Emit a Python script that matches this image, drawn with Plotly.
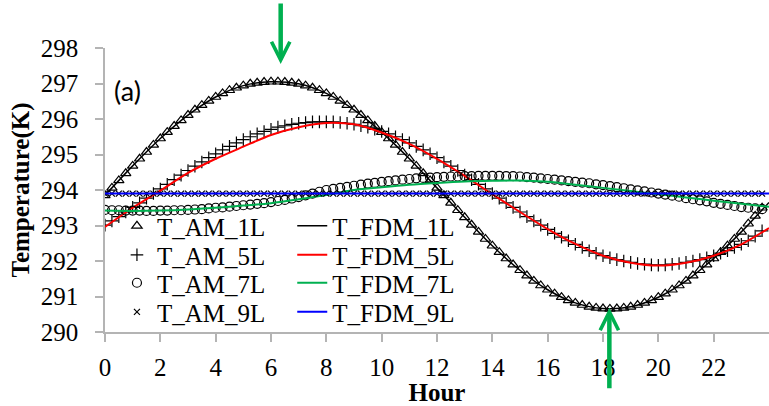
import plotly.graph_objects as go

# ---------------- data ----------------
hours_am = [i * 0.25 for i in range(96)]          # 0 .. 23.75 h (15-min steps)
hours_fdm = list(range(25))                        # 0 .. 24 h

t_am_1l = [293.85, 294.06, 294.27, 294.47, 294.68, 294.88, 295.07, 295.27, 295.45, 295.63,
           295.80, 295.96, 296.11, 296.26, 296.39, 296.51, 296.62, 296.72, 296.81, 296.88,
           296.94, 296.99, 297.02, 297.04, 297.05, 297.05, 297.04, 297.02, 296.99, 296.94,
           296.88, 296.81, 296.72, 296.62, 296.51, 296.39, 296.26, 296.11, 295.96, 295.80,
           295.63, 295.45, 295.27, 295.07, 294.88, 294.68, 294.47, 294.27, 294.06, 293.85,
           293.64, 293.43, 293.23, 293.02, 292.82, 292.62, 292.43, 292.25, 292.07, 291.90,
           291.74, 291.59, 291.44, 291.31, 291.19, 291.08, 290.98, 290.89, 290.82, 290.76,
           290.71, 290.68, 290.66, 290.65, 290.66, 290.68, 290.71, 290.76, 290.82, 290.89,
           290.98, 291.08, 291.19, 291.31, 291.44, 291.59, 291.74, 291.90, 292.07, 292.25,
           292.43, 292.62, 292.82, 293.05, 293.27, 293.50]

t_am_5l = [293.01, 293.13, 293.25, 293.38, 293.51, 293.64, 293.77, 293.90, 294.03, 294.16,
           294.29, 294.42, 294.55, 294.67, 294.79, 294.91, 295.02, 295.13, 295.23, 295.33,
           295.42, 295.50, 295.58, 295.65, 295.71, 295.77, 295.81, 295.85, 295.88, 295.90,
           295.92, 295.92, 295.92, 295.92, 295.90, 295.88, 295.85, 295.81, 295.77, 295.71,
           295.65, 295.58, 295.50, 295.42, 295.33, 295.23, 295.13, 295.02, 294.91, 294.79,
           294.67, 294.55, 294.42, 294.29, 294.16, 294.03, 293.90, 293.77, 293.64, 293.51,
           293.38, 293.25, 293.13, 293.01, 292.89, 292.78, 292.67, 292.57, 292.47, 292.38,
           292.29, 292.22, 292.15, 292.09, 292.04, 292.00, 291.96, 291.93, 291.91, 291.89,
           291.88, 291.89, 291.91, 291.93, 291.96, 292.00, 292.04, 292.09, 292.15, 292.22,
           292.29, 292.38, 292.47, 292.57, 292.70, 292.85]

t_am_7l = [293.44, 293.43, 293.43, 293.42, 293.42, 293.42, 293.41, 293.41,
           293.42, 293.42, 293.43, 293.43, 293.44, 293.45, 293.46, 293.48,
           293.50, 293.51, 293.53, 293.55, 293.57, 293.59, 293.61, 293.63,
           293.66, 293.69, 293.72, 293.76, 293.80, 293.85, 293.90, 293.95,
           294.00, 294.03, 294.06, 294.09, 294.12, 294.15, 294.18, 294.20,
           294.23, 294.25, 294.27, 294.29, 294.31, 294.33, 294.34, 294.35,
           294.36, 294.37, 294.38, 294.38, 294.39, 294.39, 294.40, 294.40,
           294.40, 294.40, 294.39, 294.39, 294.38, 294.36, 294.35, 294.33,
           294.31, 294.29, 294.27, 294.25, 294.23, 294.21, 294.19, 294.16,
           294.14, 294.11, 294.08, 294.05, 294.02, 293.99, 293.96, 293.93,
           293.90, 293.87, 293.84, 293.81, 293.77, 293.74, 293.71, 293.68,
           293.64, 293.61, 293.58, 293.55, 293.52, 293.50, 293.48, 293.46]

t_am_9l = [293.90, 293.90, 293.90, 293.90, 293.90, 293.90, 293.90, 293.90, 293.90, 293.90,
           293.90, 293.90, 293.90, 293.90, 293.90, 293.90, 293.90, 293.90, 293.90, 293.90,
           293.90, 293.90, 293.90, 293.90, 293.90, 293.90, 293.90, 293.90, 293.90, 293.90,
           293.90, 293.90, 293.90, 293.90, 293.90, 293.90, 293.90, 293.90, 293.90, 293.90,
           293.90, 293.90, 293.90, 293.90, 293.90, 293.90, 293.90, 293.90, 293.90, 293.90,
           293.90, 293.90, 293.90, 293.90, 293.90, 293.90, 293.90, 293.90, 293.90, 293.90,
           293.90, 293.90, 293.90, 293.90, 293.90, 293.90, 293.90, 293.90, 293.90, 293.90,
           293.90, 293.90, 293.90, 293.90, 293.90, 293.90, 293.90, 293.90, 293.90, 293.90,
           293.90, 293.90, 293.90, 293.90, 293.90, 293.90, 293.90, 293.90, 293.90, 293.90,
           293.90, 293.90, 293.90, 293.90, 293.90, 293.90]

t_fdm_1l = [293.85, 294.68, 295.45, 296.11, 296.62, 296.94, 297.05, 296.99, 296.72, 296.26,
            295.63, 294.88, 294.06, 293.23, 292.43, 291.74, 291.19, 290.82, 290.66, 290.71,
            290.98, 291.44, 292.07, 292.82, 293.65]
t_fdm_5l = [292.96, 293.50, 293.98, 294.48, 294.88, 295.22, 295.55, 295.77, 295.89, 295.85,
            295.62, 295.30, 294.88, 294.40, 293.88, 293.38, 292.90, 292.48, 292.15, 291.95,
            291.87, 291.95, 292.15, 292.47, 292.93]
t_fdm_7l = [293.42, 293.41, 293.42, 293.45, 293.50, 293.56, 293.63, 293.74, 293.86, 294.00,
            294.08, 294.15, 294.20, 294.24, 294.26, 294.27, 294.23, 294.15, 294.06, 293.97,
            293.88, 293.79, 293.70, 293.61, 293.53]
t_fdm_9l = [293.90, 293.90, 293.90, 293.90, 293.90, 293.90, 293.90, 293.90, 293.90, 293.90,
            293.90, 293.90, 293.90, 293.90, 293.90, 293.90, 293.90, 293.90, 293.90, 293.90,
            293.90, 293.90, 293.90, 293.90, 293.90]

x_ticks = [0, 2, 4, 6, 8, 10, 12, 14, 16, 18, 20, 22]
y_ticks = [290, 291, 292, 293, 294, 295, 296, 297, 298]

# arrow tips (hour, K)
arrow_peak = (6.35, 297.55)
arrow_trough = (18.23, 290.68)

SERIF = "Liberation Serif, Times New Roman, serif"
GREEN = "#00B050"
FS = 25

fig = go.Figure()

am_series = [
    ("T_AM_1L", t_am_1l, "triangle-up-open", 9),
    ("T_AM_5L", t_am_5l, "cross-thin-open", 9),
    ("T_AM_7L", t_am_7l, "circle-open", 9),
    ("T_AM_9L", t_am_9l, "x-thin-open", 6),
]
fdm_series = [
    ("T_FDM_1L", t_fdm_1l, "#000000", 1.5),
    ("T_FDM_5L", t_fdm_5l, "#FF0000", 2),
    ("T_FDM_7L", t_fdm_7l, GREEN, 2),
    ("T_FDM_9L", t_fdm_9l, "#0000FF", 2),
]

row_y = [0.373, 0.271, 0.1725, 0.070]
legend_layout = {}
for i, ((an, av, sym, sz), (fn, fv, col, lw)) in enumerate(zip(am_series, fdm_series)):
    la = "legend" if i == 0 else f"legend{2 * i + 1}"
    lf = f"legend{2 * i + 2}"
    fig.add_trace(go.Scatter(
        x=hours_am, y=av, name=an, mode="markers", legend=la,
        marker=dict(symbol=sym, size=sz, color="black", line=dict(width=1.2, color="black")),
    ))
    fig.add_trace(go.Scatter(
        x=hours_fdm, y=fv, name=fn, mode="lines", legend=lf,
        line=dict(color=col, width=lw, shape="spline", smoothing=0.8),
    ))
    common = dict(yanchor="middle", xanchor="left", bgcolor="rgba(0,0,0,0)",
                  font=dict(family=SERIF, size=FS, color="black"), borderwidth=0)
    legend_layout[la] = dict(x=0.018, y=row_y[i], **common)
    legend_layout[lf] = dict(x=0.282, y=row_y[i], **common)

axis_grey = "#B4B4B4"
fig.update_layout(
    width=769, height=406,
    margin=dict(l=105, r=0, t=48, b=74),
    paper_bgcolor="white", plot_bgcolor="white",
    showlegend=True,
    xaxis=dict(
        range=[0, 24], tickvals=x_ticks, ticktext=[str(v) for v in x_ticks],
        showgrid=False, zeroline=False, showline=True, linecolor=axis_grey, linewidth=1.5,
        ticks="outside", ticklen=8, tickcolor=axis_grey, tickwidth=1.5,
        tickfont=dict(family=SERIF, size=FS, color="black"), ticklabelstandoff=4,
        title=dict(text="<b>Hour</b>", font=dict(family=SERIF, size=FS, color="black"), standoff=8),
    ),
    yaxis=dict(
        range=[290, 298], tickvals=y_ticks, ticktext=[str(v) for v in y_ticks],
        showgrid=False, zeroline=False, showline=True, linecolor=axis_grey, linewidth=1.5,
        ticks="outside", ticklen=8, tickcolor=axis_grey, tickwidth=1.5,
        tickfont=dict(family=SERIF, size=FS, color="black"), ticklabelstandoff=12,
        title=dict(text="<b>Temperature(K)</b>", font=dict(family=SERIF, size=FS, color="black"), standoff=4),
    ),
    annotations=[
        dict(x=0.034, y=0.852, xref="paper", yref="paper", text="(a)", showarrow=False,
             xanchor="center", yanchor="middle",
             font=dict(family="Lato, Open Sans, sans-serif", size=27, color="black")),
        dict(x=arrow_peak[0], y=arrow_peak[1], xref="x", yref="y", text="", showarrow=True,
             ax=0, ay=-62, arrowhead=5, arrowsize=0.8, arrowwidth=4.5, arrowcolor=GREEN),
        dict(x=arrow_trough[0], y=arrow_trough[1], xref="x", yref="y", text="", showarrow=True,
             ax=0, ay=82, arrowhead=5, arrowsize=0.8, arrowwidth=4.5, arrowcolor=GREEN),
    ],
    **legend_layout,
)

fig.write_html("out.html")
